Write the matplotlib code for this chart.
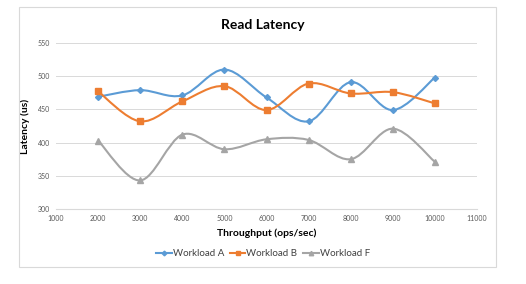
import matplotlib.pyplot as plt
import numpy as np
from matplotlib.path import Path
from matplotlib.patches import PathPatch, Rectangle
from matplotlib.lines import Line2D

plt.rcParams['font.family'] = ['Lato', 'DejaVu Sans']

# data
throughput = [2000, 3000, 4000, 5000, 6000, 7000, 8000, 9000, 10000]
workload_a = [469, 479, 471, 510, 468, 432, 491, 449, 498]
workload_b = [477, 432, 462, 485, 449, 489, 474, 476, 459]
workload_f = [403, 343, 412, 390, 405, 404, 375, 421, 371]

series = [
    ("Workload A", workload_a, "#5B9BD5", "D", 3.0),
    ("Workload B", workload_b, "#ED7D31", "s", 4.0),
    ("Workload F", workload_f, "#A5A5A5", "^", 4.0),
]


def smooth_path(x, y):
    # Excel-style smoothed line: cubic bezier, catmull-rom control points
    x = np.asarray(x, float)
    y = np.asarray(y, float)
    verts = [(x[0], y[0])]
    codes = [Path.MOVETO]
    n = len(x)
    for i in range(n - 1):
        x0, y0 = (x[i - 1], y[i - 1]) if i > 0 else (x[i], y[i])
        x3, y3 = (x[i + 2], y[i + 2]) if i + 2 < n else (x[i + 1], y[i + 1])
        c1 = (x[i] + (x[i + 1] - x0) / 6, y[i] + (y[i + 1] - y0) / 6)
        c2 = (x[i + 1] - (x3 - x[i]) / 6, y[i + 1] - (y3 - y[i]) / 6)
        verts += [c1, c2, (x[i + 1], y[i + 1])]
        codes += [Path.CURVE4] * 3
    return Path(verts, codes)


fig = plt.figure(figsize=(5.26, 2.84), dpi=100)
fig.patches.append(Rectangle((19 / 526, 1 - 267 / 284), 477 / 526, 260 / 284,
                             transform=fig.transFigure, fill=False,
                             edgecolor="#D9D9D9", linewidth=0.8))

ax = fig.add_axes([56 / 526, 1 - 209 / 284, 421 / 526, 166 / 284])

for name, vals, color, marker, ms in series:
    ax.add_patch(PathPatch(smooth_path(throughput, vals), facecolor="none",
                           edgecolor=color, linewidth=1.5, zorder=3))
    ax.plot(throughput, vals, linestyle="none", marker=marker, color=color,
            markersize=ms, zorder=4)

ax.set_xlim(1000, 11000)
ax.set_ylim(300, 550)
ax.set_xticks(np.arange(1000, 11001, 1000))
ax.set_yticks(np.arange(300, 551, 50))
ax.tick_params(length=0, labelsize=5, colors="#595959", pad=4)
ax.yaxis.grid(True, color="#D9D9D9", linewidth=0.7)
ax.set_axisbelow(True)
for s in ["top", "right", "left"]:
    ax.spines[s].set_visible(False)
ax.spines["bottom"].set_color("#D9D9D9")

ax.set_xlabel("Throughput (ops/sec)", fontsize=7.5, fontweight="bold", labelpad=5)
ax.set_ylabel("Latency (us)", fontsize=7.5, fontweight="bold", labelpad=6)
fig.text(0.5, 1 - 25 / 284, "Read Latency", ha="center", va="center",
         fontsize=10, fontweight="bold")

handles = [Line2D([0], [0], color=c, marker=m, markersize=ms * 0.8,
                  linewidth=1.5) for _, _, c, m, ms in series]
fig.legend(handles, [s[0] for s in series], loc="center",
           bbox_to_anchor=(0.5, 1 - 254 / 284), ncol=3, frameon=False,
           fontsize=7, labelcolor="#404040", handlelength=1.6,
           handletextpad=0.1, columnspacing=0.6)

fig.savefig("out.png", dpi=100)
